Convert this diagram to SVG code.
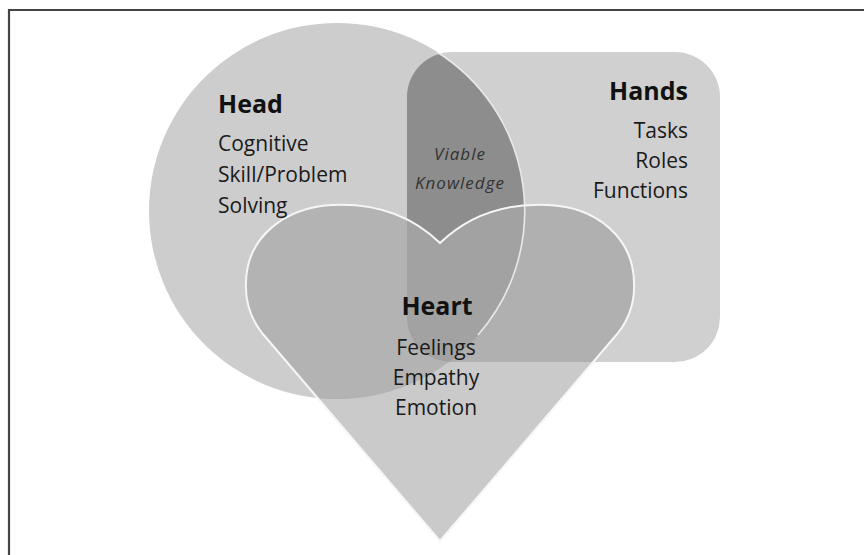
<svg xmlns="http://www.w3.org/2000/svg" width="864" height="555" viewBox="0 0 864 555">
  <style>
    .t { font-family: "Open Sans", "Liberation Sans", sans-serif; fill: #1a1a1a; }
    .title { font-weight: bold; font-size: 25px; fill: #111; }
    .item { font-size: 21px; }
    .it { font-style: italic; font-size: 17px; letter-spacing: 1px; fill: #333; }
  </style>
  <defs>
    <clipPath id="clipHead"><circle cx="337" cy="211" r="188"/></clipPath>
    <clipPath id="clipHands"><rect x="407" y="52" width="313" height="310" rx="45" ry="45"/></clipPath>
    <clipPath id="clipHeart"><path id="heartShape" d="M440,243 C410,214 372,203 332,205 C283,208 247,238 246,282 C245,302 251,319 262,333 L440,541 L618,333 C629,319 635,302 634,282 C633,238 597,207 548,205 C508,203 470,214 440,243 Z"/></clipPath>
  </defs>

  <rect x="0" y="0" width="864" height="555" fill="#ffffff"/>
  <!-- frame -->
  <path d="M9,555 L9,10 L864,10" fill="none" stroke="#444" stroke-width="2.2"/>

  <g id="head">
    <circle cx="337" cy="211" r="188" fill="#cdcdcd"/>
  </g>
  <g id="hands">
    <rect x="407" y="52" width="313" height="310" rx="45" ry="45" fill="#d0d0d0"/>
  </g>
  <g id="lens">
    <g clip-path="url(#clipHead)">
      <rect x="407" y="52" width="313" height="310" rx="45" ry="45" fill="#8d8d8d"/>
    </g>
  </g>
  <g id="heart">
    <path d="M440,243 C410,214 372,203 332,205 C283,208 247,238 246,282 C245,302 251,319 262,333 L440,541 L618,333 C629,319 635,302 634,282 C633,238 597,207 548,205 C508,203 470,214 440,243 Z" fill="#cacaca"/>
    <g clip-path="url(#clipHeart)">
      <circle cx="337" cy="211" r="188" fill="#b3b3b3"/>
      <rect x="407" y="52" width="313" height="310" rx="45" ry="45" fill="#b0b0b0"/>
      <g clip-path="url(#clipHead)">
        <rect x="407" y="52" width="313" height="310" rx="45" ry="45" fill="#a2a2a2"/>
      </g>
    </g>
    <path d="M437,52 A188,188 0 0 1 478,335" fill="none" stroke="#f4f4f4" stroke-width="1.6" opacity="0.85"/>
    <path d="M440,243 C410,214 372,203 332,205 C283,208 247,238 246,282 C245,302 251,319 262,333 L440,541 L618,333 C629,319 635,302 634,282 C633,238 597,207 548,205 C508,203 470,214 440,243 Z" fill="none" stroke="#f6f6f6" stroke-width="2"/>
  </g>

  <g id="head-text" class="t">
    <text class="t title" x="218" y="113">Head</text>
    <text class="t item" x="218" y="151">Cognitive</text>
    <text class="t item" x="218" y="182">Skill/Problem</text>
    <text class="t item" x="218" y="213">Solving</text>
  </g>
  <g id="hands-text" text-anchor="end">
    <text class="t title" x="688" y="100">Hands</text>
    <text class="t item" x="688" y="138">Tasks</text>
    <text class="t item" x="688" y="168">Roles</text>
    <text class="t item" x="688" y="198">Functions</text>
  </g>
  <g id="lens-text" text-anchor="middle">
    <text class="t it" x="460" y="160">Viable</text>
    <text class="t it" x="460" y="189">Knowledge</text>
  </g>
  <g id="heart-text" text-anchor="middle">
    <text class="t title" x="437" y="315">Heart</text>
    <text class="t item" x="436" y="355">Feelings</text>
    <text class="t item" x="436" y="385">Empathy</text>
    <text class="t item" x="436" y="415">Emotion</text>
  </g>
</svg>
